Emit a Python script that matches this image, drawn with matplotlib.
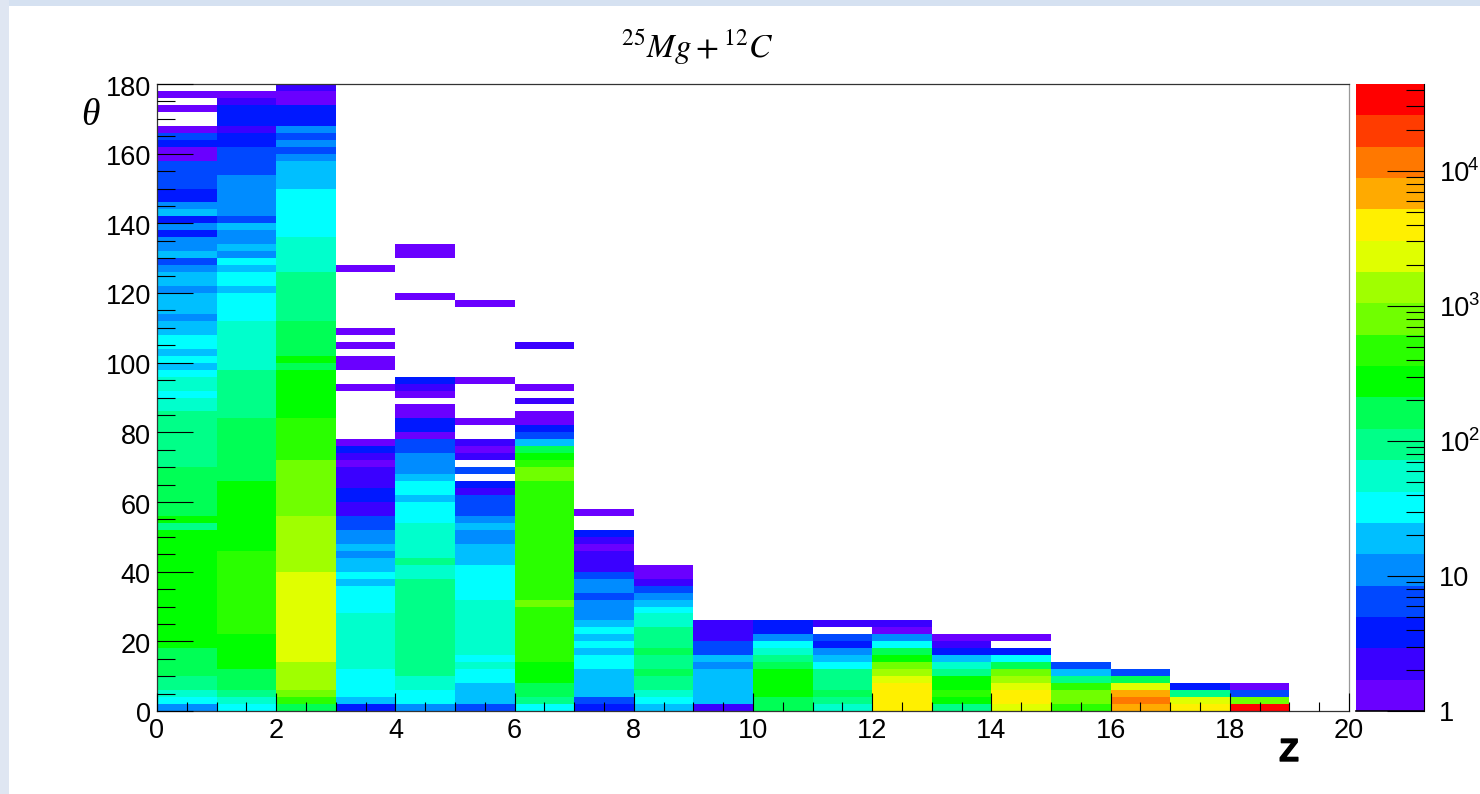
import numpy as np
import matplotlib
matplotlib.use('Agg')
import matplotlib.pyplot as plt
import matplotlib.patheffects as pe
from matplotlib.colors import ListedColormap, LogNorm
from matplotlib.patches import Rectangle
from matplotlib.ticker import LogLocator, MultipleLocator, NullFormatter
from matplotlib.transforms import ScaledTranslation

plt.rcParams['font.family'] = ['Liberation Sans', 'DejaVu Sans']

# counts per 2 degree theta bin, bottom up, one list for each Z bin (0 = empty)
z0 = [11, 32, 55, 94, 94] + [160]*4 + [270]*17 + [94, 270] + [160]*7 + [94]*8 + [55, 55, 32, 55, 55, 32, 19, 32, 19, 32, 32, 19, 19, 11, 19, 19, 19, 11, 19, 19, 11, 6, 19, 11, 11, 4, 11, 4, 19, 11, 4, 4, 6, 6, 6, 6, 1, 1, 4, 6, 1, 0, 0, 1, 0, 1, 0]
z1 = [32, 55, 94] + [160]*3 + [270]*5 + [460]*12 + [270]*10 + [160]*9 + [94]*7 + [55]*7 + [32]*4 + [19, 32, 32, 19, 32, 11, 19, 11, 11, 19, 6] + [11]*6 + [6]*4 + [4, 4, 2, 4, 4, 4, 2, 1, 0]
z2 = [160, 460, 790, 1350, 1350, 1350, 1350] + [2300]*13 + [1350]*8 + [790]*8 + [460]*6 + [270]*7 + [160, 270] + [160]*5 + [94]*7 + [55]*5 + [32]*7 + [19]*4 + [11, 6, 11, 6, 11, 4, 4, 4, 1, 1, 2]
z3 = [4, 19, 32, 32, 32, 32] + [55]*8 + [32]*4 + [19, 32, 19, 19, 11, 19, 11, 11, 6, 6, 2, 2, 4, 4, 2, 2, 2, 1, 2, 4, 1] + [0]*7 + [1, 0, 0, 1, 1, 0, 1, 0, 1] + [0]*8 + [1]
z4 = [11, 32, 32, 55, 55] + [94]*14 + [55, 55, 94] + [55]*5 + [32, 32, 32, 19, 32, 32, 19, 11, 11, 11, 6, 6, 1, 4, 4, 1, 1, 0, 1, 2, 4] + [0]*11 + [1] + [0]*5 + [1, 1]
z5 = [6, 19, 19, 19, 32, 32, 55, 32] + [55]*8 + [32]*5 + [19, 19, 19, 11, 11, 19, 11, 6, 6, 6, 2, 4, 0, 6, 0, 2, 1, 2, 0, 0, 1] + [0]*5 + [1] + [0]*10 + [1]
z6 = [32, 94, 160, 160, 270, 270, 270] + [460]*8 + [790] + [460]*17 + [790, 790, 460, 270, 160, 19, 6, 4, 1, 1, 0, 2, 0, 1] + [0]*5 + [2]
z7 = [4, 6, 19, 19, 19, 19, 32, 32, 19, 32, 19, 32, 19, 11, 11, 11, 6, 11, 11, 6, 2, 2, 2, 1, 2, 4, 0, 0, 1]
z8 = [19, 32, 55, 94, 94, 160, 94, 94, 160, 94, 94, 94, 55, 55, 32, 19, 11, 6, 2, 1, 1]
z9 = [2, 19, 19, 19, 19, 19, 11, 19, 6, 6, 2, 2, 2]
z10 = [160, 160, 270, 270, 270, 270, 160, 94, 55, 32, 11, 4, 4]
z11 = [55, 94, 160, 94, 94, 94, 32, 19, 11, 4, 6, 0, 2]
z12 = [3900, 3900, 3900, 3900, 2300, 1350, 790, 270, 160, 32, 11, 1, 2]
z13 = [94, 270, 460, 270, 270, 94, 55, 19, 4, 2, 1]
z14 = [2300, 3900, 3900, 2300, 1350, 790, 160, 32, 4, 0, 1]
z15 = [460, 790, 790, 460, 94, 19, 6]
z16 = [6700, 11000, 6700, 2300, 160, 6]
z17 = [3900, 2300, 94, 4]
z18 = [33000, 790, 6, 1]
columns = [z0, z1, z2, z3, z4, z5, z6, z7, z8, z9, z10, z11, z12, z13, z14, z15, z16, z17, z18]

palette = ['#6a00ff', '#3a00ff', '#0018ff', '#0048ff', '#008cff', '#00bfff', '#00ffff',
           '#00ffcc', '#00ff88', '#00ff55', '#00ff00', '#2aff00', '#70ff00', '#a0ff00',
           '#e0ff00', '#fff000', '#ffaa00', '#ff7800', '#ff3c00', '#ff0000']
zmax = 44000
label_size = 19.5

W, H = 1480, 794
fig = plt.figure(figsize=(W/100, H/100), dpi=100, facecolor='white')

# light blue page edge
fig.add_artist(Rectangle((0, 1-6/H), 1, 6/H, transform=fig.transFigure, color='#d5e1f1', lw=0))
fig.add_artist(Rectangle((0, 0), 9/W, 1, transform=fig.transFigure, color='#dfe6f2', lw=0))

ax = fig.add_axes([157/W, 1-711/H, (1349-157)/W, (711-84)/H])
cax = fig.add_axes([1356/W, 1-711/H, (1424-1356)/W, (711-84)/H])

grid = np.zeros((90, 20))
for i, col in enumerate(columns):
    grid[:len(col), i] = col
grid = np.ma.masked_equal(grid, 0)

cmap = ListedColormap(palette)
norm = LogNorm(vmin=1, vmax=zmax)
mesh = ax.pcolormesh(np.arange(21), np.arange(0, 181, 2), grid, cmap=cmap, norm=norm)

ax.set_xlim(0, 20)
ax.set_ylim(0, 180)
ax.xaxis.set_major_locator(MultipleLocator(2))
ax.xaxis.set_minor_locator(MultipleLocator(0.5))
ax.yaxis.set_major_locator(MultipleLocator(20))
ax.yaxis.set_minor_locator(MultipleLocator(5))
ax.tick_params(axis='x', which='major', direction='in', length=13, width=0.8, labelsize=label_size, pad=5)
ax.tick_params(axis='x', which='minor', direction='in', length=6.5, width=0.8)
ax.tick_params(axis='y', which='major', direction='in', length=26, width=0.8, labelsize=label_size, pad=4.5)
ax.tick_params(axis='y', which='minor', direction='in', length=13, width=0.8)
ax.set_axisbelow(False)
for s in ax.spines.values():
    s.set_linewidth(0.9)
    s.set_color('#333333')
ax.spines['right'].set_color('#999999')

# y labels sit a little under their ticks
for lab in ax.get_yticklabels():
    lab.set_transform(lab.get_transform() + ScaledTranslation(0, -1.5/100, fig.dpi_scale_trans))

cb = fig.colorbar(mesh, cax=cax)
cb.outline.set_visible(False)
cax.spines['right'].set_visible(True)
cax.yaxis.set_ticks_position('right')
cb.set_ticks([1, 10, 100, 1000, 10000])
cb.set_ticklabels(['1', '10', '', '', ''])
cax.yaxis.set_minor_locator(LogLocator(base=10, subs=np.arange(2, 10)))
cax.yaxis.set_minor_formatter(NullFormatter())
cax.tick_params(axis='y', which='major', direction='in', length=26.5, width=0.8, labelsize=label_size, pad=11)
cax.tick_params(axis='y', which='minor', direction='in', length=13, width=0.8)
cax.plot([0, 1], [1, 1], color='black', lw=1.2, transform=cax.get_yaxis_transform(), clip_on=False)

# 10^k drawn by hand so the exponent stays inside the picture
for k in [2, 3, 4]:
    cax.annotate('10', xy=(1, 10**k), xycoords=cax.get_yaxis_transform(), xytext=(15.5, -3),
                 textcoords='offset pixels', fontsize=label_size, va='center', ha='left')
    cax.annotate(str(k), xy=(1, 10**k), xycoords=cax.get_yaxis_transform(), xytext=(44, 5.5),
                 textcoords='offset pixels', fontsize=13.4, va='center', ha='left')

fig.text(697/W, 1-48/H, r'$^{25}Mg + ^{12}C$', ha='center', va='center', fontsize=24,
         math_fontfamily='stix')
fig.text(90/W, 1-116/H, 'θ', family='Liberation Serif', style='italic', fontsize=27,
         ha='center', va='center')
fig.text(1289/W, 1-753/H, 'Z', family='Liberation Sans', weight='bold', fontsize=23,
         ha='center', va='center', path_effects=[pe.withStroke(linewidth=1.0, foreground='black')])

fig.savefig('out.png', dpi=100)
